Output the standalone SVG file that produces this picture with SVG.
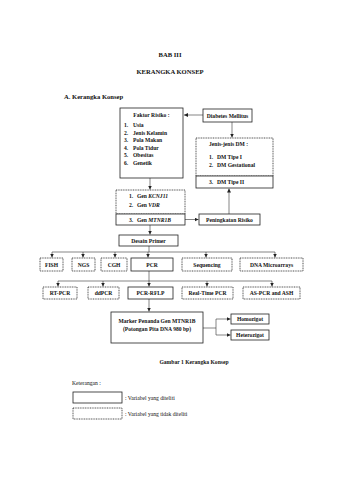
<svg xmlns="http://www.w3.org/2000/svg" width="339" height="480" viewBox="0 0 339 480">
<style>
text{font-family:"Liberation Serif","Times New Roman",serif;fill:#111}
.t{font-size:5.6px;font-weight:bold}
.h{font-size:6.6px;font-weight:bold}
.r{font-size:5.6px}
.m{text-anchor:middle}
.s{fill:#fff;stroke:#222;stroke-width:0.8}
.d{fill:#fff;stroke:#222;stroke-width:0.8;stroke-dasharray:1 0.7}
.c{fill:none;stroke:#333;stroke-width:0.6}
</style>
<defs>
<marker id="a" viewBox="0 0 6 6" refX="6" refY="3" markerWidth="4" markerHeight="4" orient="auto" markerUnits="userSpaceOnUse">
<path d="M0,0L6,3L0,6z" fill="#222"/>
</marker>
</defs>
<rect width="339" height="480" fill="#fff"/>
<text class="h m" x="170" y="57">BAB III</text>
<text class="h m" x="170" y="74">KERANGKA KONSEP</text>
<text class="h" x="64" y="99">A. Kerangka Konsep</text>

<g id="connectors">
<path class="c" d="M203,115H184" marker-end="url(#a)"/>
<path class="c" d="M232,122V137.5" marker-end="url(#a)"/>
<path class="c" d="M150,178V189.5" marker-end="url(#a)"/>
<path class="c" d="M185,219.5H198.5" marker-end="url(#a)"/>
<path class="c" d="M229,214V188.5" marker-end="url(#a)"/>
<path class="c" d="M150,225V234.5" marker-end="url(#a)"/>
<path class="c" d="M149,246V252M52,252H275"/>
<path class="c" d="M52,252V257.5" marker-end="url(#a)"/>
<path class="c" d="M83,252V257.5" marker-end="url(#a)"/>
<path class="c" d="M115,252V257.5" marker-end="url(#a)"/>
<path class="c" d="M148,252V257.5" marker-end="url(#a)"/>
<path class="c" d="M206,252V257.5" marker-end="url(#a)"/>
<path class="c" d="M275,252V257.5" marker-end="url(#a)"/>
<path class="c" d="M149,271V281M58,281H272"/>
<path class="c" d="M58,281V286.5" marker-end="url(#a)"/>
<path class="c" d="M103,281V286.5" marker-end="url(#a)"/>
<path class="c" d="M149,281V286.5" marker-end="url(#a)"/>
<path class="c" d="M207,281V286.5" marker-end="url(#a)"/>
<path class="c" d="M272,281V286.5" marker-end="url(#a)"/>
<path class="c" d="M149,299V311.5" marker-end="url(#a)"/>
<path class="c" d="M203,328H216M216,319V335"/>
<path class="c" d="M216,319H230.5" marker-end="url(#a)"/>
<path class="c" d="M216,335H230.5" marker-end="url(#a)"/>
</g>

<g id="faktor-risiko">
<rect class="s" x="120" y="108" width="63" height="70"/>
<text class="t m" x="151.5" y="117">Faktor Risiko :</text>
<text class="t" x="124" y="127">1.</text><text class="t" x="133" y="127">Usia</text>
<text class="t" x="124" y="134.5">2.</text><text class="t" x="133" y="134.5">Jenis Kelamin</text>
<text class="t" x="124" y="142">3.</text><text class="t" x="133" y="142">Pola Makan</text>
<text class="t" x="124" y="149.5">4.</text><text class="t" x="133" y="149.5">Pola Tidur</text>
<text class="t" x="124" y="157">5.</text><text class="t" x="133" y="157">Obesitas</text>
<text class="t" x="124" y="164.5">6.</text><text class="t" x="133" y="164.5">Genetik</text>
</g>

<g id="diabetes-mellitus">
<rect class="s" x="203" y="109" width="49" height="13"/>
<text class="t m" x="227.5" y="117.5">Diabetes Mellitus</text>
</g>

<g id="jenis-dm">
<rect class="d" x="196" y="138" width="77" height="38"/>
<rect class="s" x="196" y="176" width="77" height="12"/>
<text class="t" x="209" y="146">Jenis-jenis DM :</text>
<text class="t" x="209" y="159">1.</text><text class="t" x="217" y="159">DM Tipe I</text>
<text class="t" x="209" y="167">2.</text><text class="t" x="217" y="167">DM Gestational</text>
<text class="t" x="209" y="184">3.</text><text class="t" x="217" y="184">DM Tipe II</text>
</g>

<g id="gen">
<rect class="d" x="116" y="190" width="69" height="24"/>
<rect class="s" x="116" y="214" width="69" height="11"/>
<text class="t" x="129" y="198">1.</text><text class="t" x="137" y="198">Gen <tspan font-style="italic">KCNJ11</tspan></text>
<text class="t" x="129" y="207">2.</text><text class="t" x="137" y="207">Gen <tspan font-style="italic">VDR</tspan></text>
<text class="t" x="129" y="221.5">3.</text><text class="t" x="137" y="221.5">Gen <tspan font-style="italic">MTNR1B</tspan></text>
</g>

<g id="peningkatan-risiko">
<rect class="s" x="199" y="214" width="61" height="11"/>
<text class="t m" x="229.5" y="221.5">Peningkatan Risiko</text>
</g>

<g id="desain-primer">
<rect class="s" x="119" y="235" width="59" height="11"/>
<text class="t m" x="148.5" y="242.5">Desain Primer</text>
</g>

<g id="fish"><rect class="d" x="40" y="258" width="23" height="13"/><text class="t m" x="51.5" y="266.5">FISH</text></g>
<g id="ngs"><rect class="d" x="72" y="258" width="23" height="13"/><text class="t m" x="83.5" y="266.5">NGS</text></g>
<g id="cgh"><rect class="d" x="101" y="258" width="26" height="13"/><text class="t m" x="114" y="266.5">CGH</text></g>
<g id="pcr"><rect class="s" x="131" y="258" width="42" height="13"/><text class="t m" x="152" y="266.5">PCR</text></g>
<g id="sequencing"><rect class="d" x="182" y="258" width="50" height="13"/><text class="t m" x="207" y="266.5">Sequencing</text></g>
<g id="dna-microarrays"><rect class="d" x="240" y="258" width="63" height="13"/><text class="t m" x="271.5" y="266.5">DNA Microarrays</text></g>

<g id="rt-pcr"><rect class="d" x="43" y="287" width="34" height="12"/><text class="t m" x="60" y="295">RT-PCR</text></g>
<g id="ddpcr"><rect class="d" x="88" y="287" width="31" height="12"/><text class="t m" x="103.5" y="295">ddPCR</text></g>
<g id="pcr-rflp"><rect class="s" x="128" y="287" width="45" height="12"/><text class="t m" x="150.5" y="295">PCR-RFLP</text></g>
<g id="real-time-pcr"><rect class="d" x="182" y="287" width="51" height="12"/><text class="t m" x="207.5" y="295">Real-Time PCR</text></g>
<g id="as-pcr-ash"><rect class="d" x="243" y="287" width="57" height="12"/><text class="t m" x="271.5" y="295">AS-PCR and ASH</text></g>

<g id="marker">
<rect class="s" x="111" y="312" width="92" height="31"/>
<text class="t m" x="157" y="323">Marker Penanda Gen MTNR1B</text>
<text class="t m" x="157" y="331">(Potongan Pita DNA 980 bp)</text>
</g>
<g id="homozigot"><rect class="s" x="231" y="314" width="38" height="10"/><text class="t m" x="250" y="321">Homozigot</text></g>
<g id="heterozigot"><rect class="s" x="231" y="330" width="38" height="10"/><text class="t m" x="250" y="337">Heterozigot</text></g>

<text class="t m" x="194" y="364">Gambar  1 Kerangka Konsep</text>

<g id="legend">
<text class="r" x="72" y="385">Keterangan :</text>
<rect class="s" x="73" y="392" width="49" height="11"/>
<text class="r" x="125" y="399.5">: Variabel yang diteliti</text>
<rect class="d" x="73" y="408" width="49" height="11"/>
<text class="r" x="125" y="415.5">: Variabel yang tidak diteliti</text>
</g>
</svg>
